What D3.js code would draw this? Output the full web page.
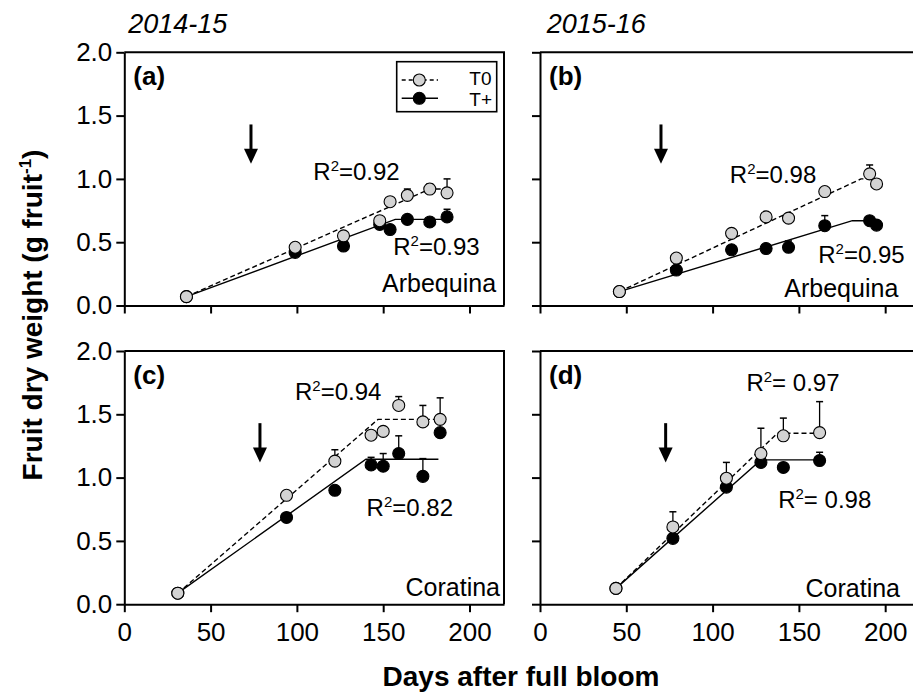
<!DOCTYPE html>
<html lang="en">
<head>
<meta charset="UTF-8">
<title>Fruit dry weight</title>
<script src="https://cdn.jsdelivr.net/npm/d3@7"></script>
<style>
    body { margin: 0; padding: 0; background: #fff; }
    svg { display: block; font-family: "Liberation Sans", Arial, sans-serif; }
    .axis path, .axis line { stroke: #000; stroke-width: 2px; }
    .axis text { font-size: 26px; fill: #000; font-family: "Liberation Sans", Arial, sans-serif; }
</style>
</head>
<body>
<svg id="chart" width="913" height="692"></svg>
<script>
    // --- data ---
    const xTicks = [0, 50, 100, 150, 200];
    const yTicks = [0, 0.5, 1.0, 1.5, 2.0];
    const seasons = ["2014-15", "2015-16"];
    const cultivars = ["Arbequina", "Coratina"];
    const panelLetters = ["(a)", "(b)", "(c)", "(d)"];
    const legendLabels = ["T0", "T+"];

    // (a) Arbequina 2014-15
    const daysA = [36, 99, 127, 148, 154, 164, 177, 187];
    const t0A = [0.07, 0.46, 0.55, 0.67, 0.82, 0.87, 0.92, 0.89];
    const t0ErrA = [0, 0.02, 0.02, 0.02, 0, 0.05, 0.04, 0.11];
    const tpA = [0.07, 0.42, 0.47, 0.64, 0.60, 0.68, 0.66, 0.70];
    const tpErrA = [0, 0, 0, 0, 0, 0, 0.02, 0.06];
    const fitT0A = [[36, 0.07], [177, 0.92], [187, 0.92]];
    const fitTpA = [[36, 0.07], [157, 0.68], [187, 0.68]];

    // (b) Arbequina 2015-16
    const daysB = [46, 79, 111, 131, 144, 165, 191, 195];
    const t0B = [0.11, 0.375, 0.57, 0.70, 0.69, 0.90, 1.04, 0.96];
    const t0ErrB = [0, 0, 0, 0, 0, 0, 0.07, 0];
    const tpB = [0.11, 0.28, 0.44, 0.45, 0.46, 0.63, 0.67, 0.635];
    const tpErrB = [0, 0, 0, 0, 0.05, 0.08, 0, 0];
    const fitT0B = [[46, 0.11], [186, 1.0], [195, 1.0]];
    const fitTpB = [[46, 0.11], [181, 0.67], [195, 0.67]];

    // (c) Coratina 2014-15
    const daysC = [31, 94, 122, 143, 150, 159, 173, 183];
    const t0C = [0.087, 0.86, 1.13, 1.335, 1.365, 1.57, 1.44, 1.46];
    const t0ErrC = [0, 0, 0.09, 0, 0, 0.07, 0.13, 0.17];
    const tpC = [0.087, 0.685, 0.90, 1.10, 1.09, 1.19, 1.01, 1.355];
    const tpErrC = [0, 0, 0, 0.06, 0.10, 0.14, 0.14, 0];
    const fitT0C = [[31, 0.087], [147, 1.46], [183, 1.46]];
    const fitTpC = [[31, 0.087], [140, 1.145], [182, 1.145]];

    // (d) Coratina 2015-16
    const daysD = [44, 77, 108, 128, 141, 162];
    const t0D = [0.125, 0.61, 0.995, 1.19, 1.33, 1.355];
    const t0ErrD = [0, 0.12, 0.125, 0.20, 0.14, 0.245];
    const tpD = [0.125, 0.52, 0.925, 1.12, 1.08, 1.135];
    const tpErrD = [0, 0, 0, 0, 0, 0.065];
    const fitT0D = [[44, 0.125], [137.5, 1.35], [162, 1.35]];
    const fitTpD = [[44, 0.125], [128, 1.14], [162, 1.14]];

    // arrow day (start of treatment) per panel
    const arrowDays = [73.4, 70.1, 78.6, 72.8];
    const r2T0 = ["=0.92", "=0.98", "=0.94", "= 0.97"];
    const r2Tp = ["=0.93", "=0.95", "=0.82", "= 0.98"];

    // --- layout ---
    const svg = d3.select("#chart");
    const panelW = 379.7, panelH = 253.2;
    const lefts = [124.3, 540];
    const tops = [52.3, 351];

    const panels = [
        { days: daysA, t0: t0A, t0Err: t0ErrA, tp: tpA, tpErr: tpErrA, fitT0: fitT0A, fitTp: fitTpA,
          col: 0, row: 0, r2a: [109.5, 0.99], r2b: [155.8, 0.40], name: [215.4, 0.11] },
        { days: daysB, t0: t0B, t0Err: t0ErrB, tp: tpB, tpErr: tpErrB, fitT0: fitT0B, fitTp: fitTpB,
          col: 1, row: 0, r2a: [110, 0.97], r2b: [161.2, 0.333], name: [207.6, 0.07] },
        { days: daysC, t0: t0C, t0Err: t0ErrC, tp: tpC, tpErr: tpErrC, fitT0: fitT0C, fitTp: fitTpC,
          col: 0, row: 1, r2a: [98.9, 1.611], r2b: [140.4, 0.695], name: [217.7, 0.065] },
        { days: daysD, t0: t0D, t0Err: t0ErrD, tp: tpD, tpErr: tpErrD, fitT0: fitT0D, fitTp: fitTpD,
          col: 1, row: 1, r2a: [119.6, 1.686], r2b: [138, 0.758], name: [208.6, 0.06] }
    ];

    panels.forEach((p, i) => {
        const left = lefts[p.col], top = tops[p.row];
        const x = d3.scaleLinear().domain([0, 220]).range([left, left + panelW]);
        const y = d3.scaleLinear().domain([0, 2]).range([top + panelH, top]);
        const g = svg.append("g");

        // frame: top and right
        g.append("path")
            .attr("d", `M${x(0)},${y(2)}H${x(220)}V${y(0)}`)
            .attr("fill", "none").attr("stroke", "#000").attr("stroke-width", 2);

        g.append("g").attr("class", "axis")
            .attr("transform", `translate(${x(0)},0)`)
            .call(d3.axisLeft(y).tickValues(yTicks).tickSize(8).tickSizeOuter(0).tickPadding(4)
                .tickFormat(p.col === 0 ? d3.format(".1f") : () => ""));

        g.append("g").attr("class", "axis")
            .attr("transform", `translate(0,${y(0)})`)
            .call(d3.axisBottom(x).tickValues(xTicks).tickSize(8).tickSizeOuter(0).tickPadding(10)
                .tickFormat(p.row === 1 ? d3.format("d") : () => ""));

        // fitted broken-line models
        const line = d3.line().x(d => x(d[0])).y(d => y(d[1]));
        g.append("path").datum(p.fitTp).attr("d", line)
            .attr("fill", "none").attr("stroke", "#000").attr("stroke-width", 1.4);
        g.append("path").datum(p.fitT0).attr("d", line)
            .attr("fill", "none").attr("stroke", "#000").attr("stroke-width", 1.4)
            .attr("stroke-dasharray", "5,3");

        // points with upward error bars (T+ underneath, T0 on top)
        const series = [
            { vals: p.tp, err: p.tpErr, fill: "#000" },
            { vals: p.t0, err: p.t0Err, fill: "#d3d3d3" }
        ];
        series.forEach(s => {
            const pts = p.days.map((d, k) => ({ day: d, v: s.vals[k], e: s.err[k] }));
            const eb = g.append("g").selectAll("g").data(pts.filter(d => d.e > 0)).join("g");
            eb.append("line")
                .attr("x1", d => x(d.day)).attr("x2", d => x(d.day))
                .attr("y1", d => y(d.v)).attr("y2", d => y(d.v + d.e))
                .attr("stroke", "#000").attr("stroke-width", 1.3);
            eb.append("line")
                .attr("x1", d => x(d.day) - 3.5).attr("x2", d => x(d.day) + 3.5)
                .attr("y1", d => y(d.v + d.e)).attr("y2", d => y(d.v + d.e))
                .attr("stroke", "#000").attr("stroke-width", 1.5);
            g.append("g").selectAll("circle").data(pts).join("circle")
                .attr("cx", d => x(d.day)).attr("cy", d => y(d.v)).attr("r", 6)
                .attr("fill", s.fill).attr("stroke", "#000").attr("stroke-width", 1.1);
        });

        // arrow marking the treatment start
        const ax = x(arrowDays[i]), aTop = y(1.43), aTip = y(1.12);
        g.append("line").attr("x1", ax).attr("x2", ax).attr("y1", aTop).attr("y2", aTip - 12)
            .attr("stroke", "#000").attr("stroke-width", 3);
        g.append("path")
            .attr("d", `M${ax - 7},${aTip - 15}L${ax + 7},${aTip - 15}L${ax},${aTip}Z`)
            .attr("fill", "#000");

        // panel letter
        g.append("text").attr("x", x(0) + 9).attr("y", y(1.74))
            .attr("font-size", 26).attr("font-weight", "bold").text(panelLetters[i]);

        // R^2 labels
        [[p.r2a, r2T0[i]], [p.r2b, r2Tp[i]]].forEach(([pos, txt]) => {
            const t = g.append("text").attr("x", x(pos[0])).attr("y", y(pos[1])).attr("font-size", 24);
            t.append("tspan").text("R");
            t.append("tspan").attr("font-size", 15).attr("dy", -9).text("2");
            t.append("tspan").attr("dy", 9).text(txt);
        });

        // cultivar
        g.append("text").attr("x", x(p.name[0])).attr("y", y(p.name[1]))
            .attr("text-anchor", "end").attr("font-size", 25).text(cultivars[p.row]);

        // legend (panel a only)
        if (i === 0) {
            const lg = g.append("g").attr("transform", `translate(${left},${top})`);
            const rows = [27.7, 46];
            const baselines = [32.5, 54];
            lg.append("rect").attr("x", 272.4).attr("y", 9.4).attr("width", 100).attr("height", 50)
                .attr("fill", "#fff").attr("stroke", "#000").attr("stroke-width", 1.6);
            rows.forEach((ry, k) => {
                lg.append("line").attr("x1", 277.4).attr("x2", 313.7).attr("y1", ry).attr("y2", ry)
                    .attr("stroke", "#000").attr("stroke-width", 1.4)
                    .attr("stroke-dasharray", k === 0 ? "4,3" : null);
                lg.append("circle").attr("cx", 295).attr("cy", ry).attr("r", 6)
                    .attr("fill", k === 0 ? "#d3d3d3" : "#000").attr("stroke", "#000").attr("stroke-width", 1.1);
                lg.append("text").attr("x", 345).attr("y", baselines[k]).attr("font-size", 19)
                    .text(legendLabels[k]);
            });
        }
    });

    // season titles
    seasons.forEach((s, k) => {
        svg.append("text").attr("x", lefts[k] + (k === 0 ? 4 : 6.7)).attr("y", 33)
            .attr("font-size", 27).attr("font-style", "italic").text(s);
    });

    // axis titles
    svg.append("text").attr("x", 521).attr("y", 686).attr("text-anchor", "middle")
        .attr("font-size", 28).attr("font-weight", "bold").text("Days after full bloom");

    const yl = svg.append("text").attr("transform", "translate(42,315) rotate(-90)")
        .attr("text-anchor", "middle").attr("font-size", 28).attr("font-weight", "bold");
    yl.append("tspan").text("Fruit dry weight (g fruit");
    yl.append("tspan").attr("font-size", 17).attr("dy", -11).text("-1");
    yl.append("tspan").attr("dy", 11).text(")");
</script>
</body>
</html>
